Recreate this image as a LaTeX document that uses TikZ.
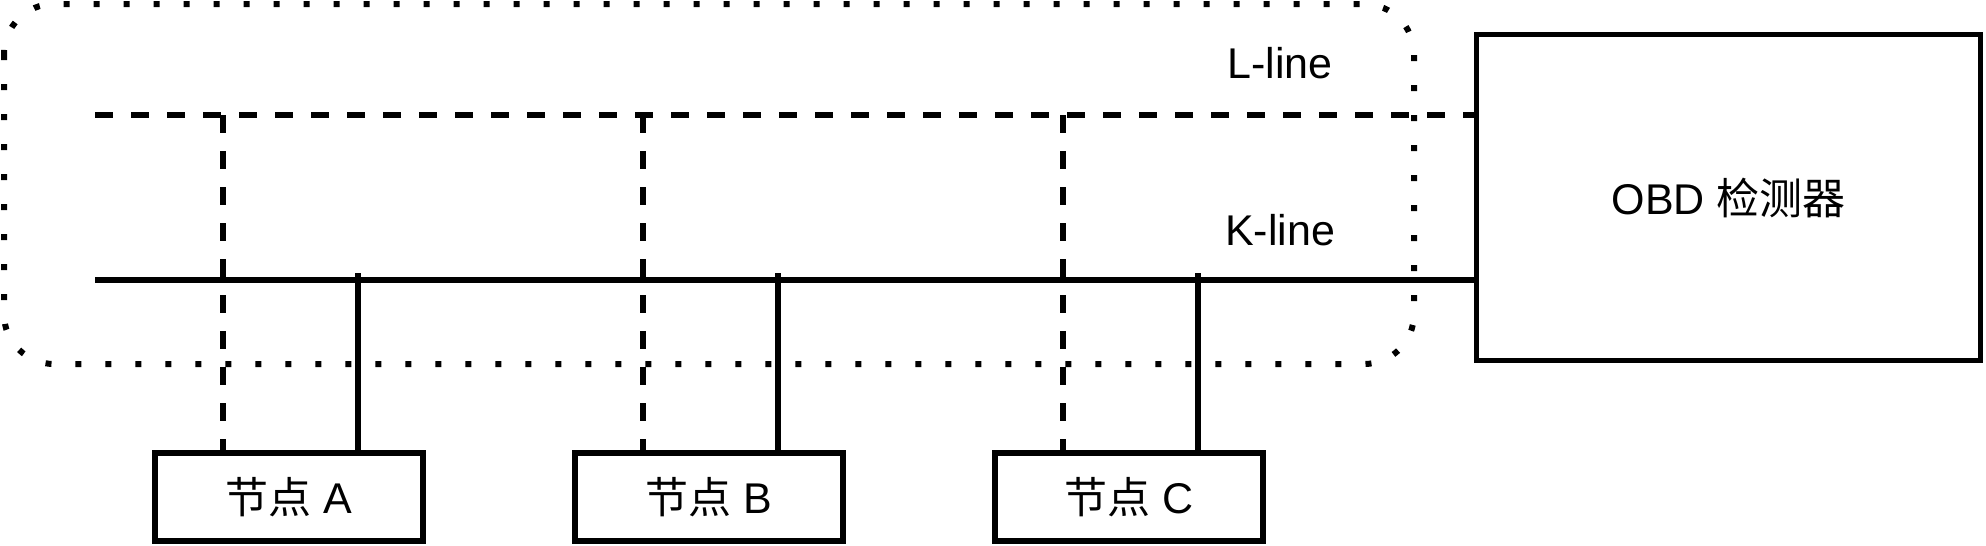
\documentclass[tikz,border=0pt]{standalone}
\usepackage{fontspec}
\setmainfont{Liberation Sans}
\newfontfamily\cjk{Noto Sans CJK SC}
\begin{document}
\begin{tikzpicture}[x=0.5pt,y=-0.5pt,
  txt/.style={font=\fontsize{21.5}{24}\selectfont, inner sep=0pt},
  nodebox/.style={draw, line width=2.6pt, minimum width=134pt, minimum height=44pt, inner sep=0pt, font=\fontsize{21.5}{24}\selectfont},
  dashline/.style={line width=2.8pt, dash pattern=on 9pt off 9pt},
  solidline/.style={line width=2.6pt},
  dotline/.style={line width=3pt, dash pattern=on 3pt off 12pt, rounded corners=25pt}]
\useasboundingbox (0,0) rectangle (1986,546);
% dotted group
\draw[dotline] (4,4) rectangle (1414,364);
% OBD
\node[draw, line width=2.6pt, minimum width=252pt, minimum height=163pt, inner sep=0pt, anchor=north west, font=\fontsize{21.5}{24}\selectfont] (obd) at (1474,32) {OBD {\cjk 检测器}};
% nodes
\node[nodebox] (na) at (289,497) {{\cjk 节点} A};
\node[nodebox] (nb) at (709,497) {{\cjk 节点} B};
\node[nodebox] (nc) at (1129,497) {{\cjk 节点} C};
% bus lines
\coordinate (ls) at (95,115);
\coordinate (ks) at (95,280);
\draw[dashline] (ls) -- (ls -| obd.west);
\draw[solidline] (ks) -- (ks -| obd.west);
% labels
\node[txt] (ll) at (1280,63) {L-line};
\node[txt] (kl) at (1280,230) {K-line};
% drops
\foreach \n/\dx/\sx in {na/223/358, nb/643/778, nc/1063/1198}{
  \coordinate (\n L) at (\dx,115);
  \coordinate (\n K) at (\sx,273);
  \draw[dashline] (\n L) -- (\n L |- \n.north);
  \draw[solidline] (\n K) -- (\n K |- \n.north);
}
\end{tikzpicture}
\end{document}
